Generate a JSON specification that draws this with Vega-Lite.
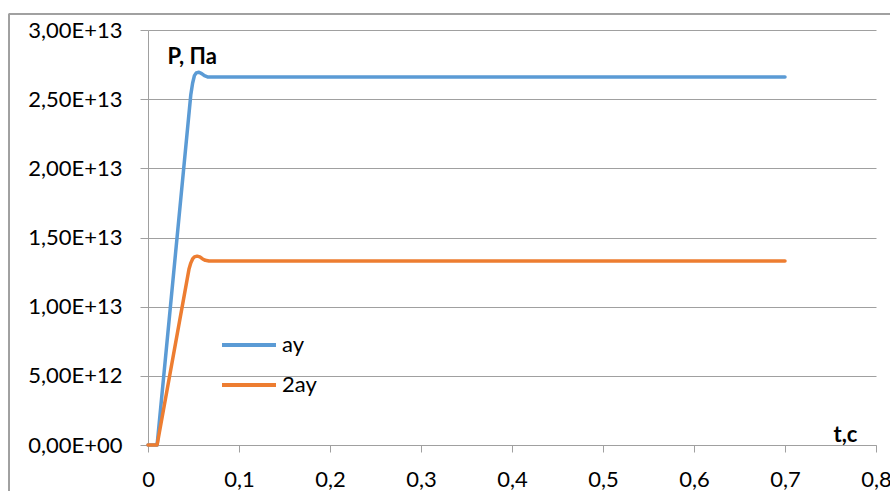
{
  "$schema": "https://vega.github.io/schema/vega-lite/v6.json",
  "width": 728,
  "height": 415,
  "autosize": {"type": "none"},
  "padding": {"left": 148, "top": 30, "right": 14, "bottom": 46},
  "background": "white",
  "config": {"view": {"stroke": null}, "font": "Lato"},
  "data": {
    "values": [
      {"t": 0, "p": 0, "series": "ау"},
      {"t": 0.01, "p": 0, "series": "ау"},
      {"t": 0.047, "p": 2.53e13, "series": "ау"},
      {"t": 0.049, "p": 2.615e13, "series": "ау"},
      {"t": 0.051, "p": 2.67e13, "series": "ау"},
      {"t": 0.053, "p": 2.69e13, "series": "ау"},
      {"t": 0.056, "p": 2.695e13, "series": "ау"},
      {"t": 0.059, "p": 2.685e13, "series": "ау"},
      {"t": 0.062, "p": 2.67e13, "series": "ау"},
      {"t": 0.066, "p": 2.66e13, "series": "ау"},
      {"t": 0.7, "p": 2.66e13, "series": "ау"},
      {"t": 0, "p": 0, "series": "2ау"},
      {"t": 0.01, "p": 0, "series": "2ау"},
      {"t": 0.045, "p": 1.27e13, "series": "2ау"},
      {"t": 0.047, "p": 1.315e13, "series": "2ау"},
      {"t": 0.049, "p": 1.345e13, "series": "2ау"},
      {"t": 0.051, "p": 1.36e13, "series": "2ау"},
      {"t": 0.054, "p": 1.365e13, "series": "2ау"},
      {"t": 0.057, "p": 1.36e13, "series": "2ау"},
      {"t": 0.06, "p": 1.345e13, "series": "2ау"},
      {"t": 0.063, "p": 1.335e13, "series": "2ау"},
      {"t": 0.067, "p": 1.33e13, "series": "2ау"},
      {"t": 0.7, "p": 1.33e13, "series": "2ау"}
    ]
  },
  "layer": [
    {
      "mark": {"type": "rule", "color": "#a0a0a0", "strokeWidth": 1},
      "encoding": {
        "x": {"datum": -0.1527, "type": "quantitative"},
        "y": {"datum": 3.116e13, "type": "quantitative"},
        "y2": {"datum": -6e12}
      }
    },
    {
      "mark": {"type": "rule", "color": "#a0a0a0", "strokeWidth": 1},
      "encoding": {
        "x": {"datum": -0.1527, "type": "quantitative"},
        "x2": {"datum": 0.84},
        "y": {"datum": 3.116e13, "type": "quantitative"}
      }
    },
    {
      "mark": {"type": "line", "interpolate": "linear", "strokeWidth": 3.5, "strokeCap": "round", "strokeJoin": "round"},
      "encoding": {
        "x": {
          "field": "t",
          "type": "quantitative",
          "scale": {"domain": [0, 0.8], "nice": false},
          "axis": {
            "values": [0, 0.1, 0.2, 0.3, 0.4, 0.5, 0.6, 0.7, 0.8],
            "labelExpr": "replace(format(datum.value, '.1~f'), '.', ',')",
            "grid": false,
            "domainColor": "#a0a0a0",
            "tickColor": "#a0a0a0",
            "tickSize": 7,
            "labelFontSize": 22,
            "labelColor": "#000000",
            "labelBaseline": "alphabetic",
            "labelPadding": 34,
            "labelFlush": false,
            "labelOverlap": false,
            "title": "t,с",
            "titleFontSize": 22,
            "titleFontWeight": "bold",
            "titleColor": "#000000",
            "titleAlign": "left",
            "titleBaseline": "alphabetic",
            "titleX": 685,
            "titleY": -4
          }
        },
        "y": {
          "field": "p",
          "type": "quantitative",
          "scale": {"domain": [0, 3e13], "nice": false},
          "axis": {
            "values": [0, 5e12, 1e13, 1.5e13, 2e13, 2.5e13, 3e13],
            "labelExpr": "datum.value == 0 ? '0,00E+00' : replace(upper(format(datum.value, '.2e')), '.', ',')",
            "grid": true,
            "gridColor": "#a0a0a0",
            "domainColor": "#a0a0a0",
            "tickColor": "#a0a0a0",
            "tickSize": 8,
            "labelFontSize": 22,
            "labelColor": "#000000",
            "labelPadding": 18,
            "labelFlush": false,
            "labelOverlap": false,
            "title": "Р, Па",
            "titleFontSize": 22,
            "titleFontWeight": "bold",
            "titleColor": "#000000",
            "titleAngle": 0,
            "titleAlign": "left",
            "titleBaseline": "alphabetic",
            "titleX": 19,
            "titleY": 33
          }
        },
        "color": {
          "field": "series",
          "type": "nominal",
          "scale": {"domain": ["ау", "2ау"], "range": ["#5B9BD5", "#ED7D31"]},
          "legend": {
            "orient": "none",
            "legendX": 72,
            "legendY": 286,
            "title": null,
            "symbolType": "stroke",
            "symbolSize": 2916,
            "symbolStrokeWidth": 4,
            "labelFontSize": 22,
            "labelColor": "#000000",
            "labelOffset": 4,
            "rowPadding": 0
          }
        }
      }
    }
  ]
}
